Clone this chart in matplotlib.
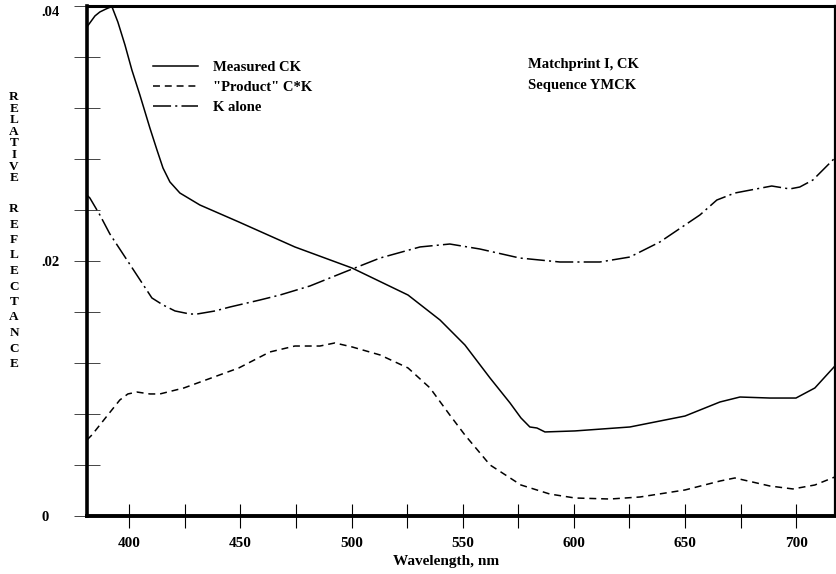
import matplotlib
matplotlib.use("Agg")
import matplotlib.pyplot as plt

plt.rcParams['font.family'] = ['Liberation Serif', 'DejaVu Serif']
plt.rcParams['font.weight'] = 'bold'
plt.rcParams['lines.scale_dashes'] = False

# %% values (wavelength in nm, relative reflectance)
measured_wl = [381.0, 384.6, 386.8, 389.5, 392.2, 394.9, 398.1, 401.2, 404.8, 409.3,
               412.5, 415.2, 418.3, 422.8, 431.8, 449.3, 474.5, 500.2, 525.4, 539.8,
               551.0, 562.3, 571.3, 576.2, 580.2, 583.4, 587.0, 600.5, 625.2, 650.0,
               665.7, 674.7, 688.2, 699.9, 708.4, 717.4]
measured_r = [0.0384, 0.03926, 0.03957, 0.0398, 0.0400, 0.03878, 0.03698, 0.03502, 0.03306, 0.03047,
              0.02874, 0.02733, 0.02624, 0.02537, 0.02443, 0.0231, 0.02114, 0.01949, 0.01737, 0.01541,
              0.01345, 0.01086, 0.0089, 0.00773, 0.00702, 0.00694, 0.00663, 0.00671, 0.00702, 0.00788,
              0.00898, 0.00937, 0.00929, 0.00929, 0.01008, 0.0118]

product_wl = [381.0, 383.2, 390.0, 395.8, 399.4, 403.5, 409.3, 413.8, 424.6, 449.3,
              463.2, 474.5, 485.8, 492.5, 500.2, 512.8, 525.4, 535.3, 544.2, 551.0,
              562.3, 576.2, 589.2, 600.5, 616.3, 629.8, 650.0, 665.7, 672.4, 688.2,
              698.5, 708.4, 717.4]
product_r = [0.0060, 0.00639, 0.00788, 0.00914, 0.00961, 0.00976, 0.00961, 0.00961, 0.01008, 0.01165,
             0.0129, 0.01337, 0.01337, 0.01361, 0.0133, 0.01267, 0.01165, 0.01008, 0.00796, 0.00639,
             0.00404, 0.00247, 0.00176, 0.00145, 0.00137, 0.00153, 0.00208, 0.00278, 0.00302, 0.00239,
             0.00216, 0.00247, 0.0031]

kalone_wl = [381.0, 382.3, 386.8, 391.3, 410.2, 415.2, 420.6, 427.3, 430.5, 438.6,
             445.3, 458.8, 467.8, 481.3, 497.0, 512.8, 530.8, 544.2, 557.7, 575.7,
             593.7, 611.7, 625.2, 638.7, 656.7, 664.3, 672.4, 689.0, 697.1, 701.6,
             707.5, 717.4]
kalone_r = [0.0252, 0.02498, 0.02365, 0.02216, 0.01714, 0.01659, 0.01612, 0.01588, 0.01588, 0.01612,
            0.01643, 0.01698, 0.01737, 0.01808, 0.01918, 0.02027, 0.02114, 0.02137, 0.02098, 0.02027,
            0.01996, 0.01996, 0.02035, 0.02153, 0.02365, 0.02482, 0.02537, 0.02592, 0.02569, 0.02584,
            0.02639, 0.02812]

xticks_major = [400, 450, 500, 550, 600, 650, 700]
xticks_minor = [425, 475, 525, 575, 625, 675]
yticks_major = [0, 0.02, 0.04]
ytick_labels = ['0', '.02', '.04']
yticks_minor = [0.004, 0.008, 0.012, 0.016, 0.024, 0.028, 0.032, 0.036]
ylabel_word1 = "RELATIVE"
ylabel_word2 = "REFLECTANCE"

# %%
fig = plt.figure(figsize=(8.37, 5.74), dpi=100)
ax = fig.add_axes([0.1039, 0.1002, 0.8933, 0.8885])

ax.plot(measured_wl, measured_r, color='black', lw=1.1, label='Measured CK')
ax.plot(product_wl, product_r, color='black', lw=1.1, dashes=(5, 3.5), label='"Product" C*K')
ax.plot(kalone_wl, kalone_r, color='black', lw=1.1, dashes=(13, 3, 1.5, 3), label='K alone')

ax.set_xlim(381.0, 717.3)
ax.set_ylim(0, 0.04)

for side, lw in (('left', 2.6), ('bottom', 2.8), ('top', 2.2), ('right', 1.6)):
    ax.spines[side].set_linewidth(lw)

ax.set_xticks(xticks_major)
ax.set_xticks(xticks_minor, minor=True)
ax.set_yticks(yticks_major)
ax.set_yticklabels(ytick_labels, ha='left')
ax.get_yticklabels()[-1].set_va('top')
ax.set_yticks(yticks_minor, minor=True)
ax.tick_params(axis='x', which='both', direction='inout', length=17, width=0.8,
               labelsize=11, pad=6)
ax.tick_params(axis='y', which='both', direction='inout', length=19, width=0.7,
               color='#444444', labelsize=10.5, pad=23.5)

ax.set_xlabel('Wavelength, nm', fontsize=11, fontweight='bold')
ax.xaxis.set_label_coords(0.48, -0.0755)

# stacked y label, one letter per line (the two words are spaced differently)
for i, ch in enumerate(ylabel_word1):
    fig.text(14 / 837, 1 - (97 + i * 11.6) / 574, ch, ha='center', va='center',
             fontsize=9.5, fontweight='bold')
for i, ch in enumerate(ylabel_word2):
    fig.text(14 / 837, 1 - (209 + i * 15.5) / 574, ch, ha='center', va='center',
             fontsize=9.5, fontweight='bold')

ax.legend(loc='upper left', bbox_to_anchor=(0.088, 0.893), frameon=False,
          borderpad=0, borderaxespad=0, handlelength=3.1, handletextpad=1.0,
          labelspacing=0.45, prop={'size': 10.5, 'weight': 'bold'})

ax.text(0.5896, 0.887, 'Matchprint I, CK', transform=ax.transAxes, ha='left', va='center',
        fontsize=10.5, fontweight='bold')
ax.text(0.5896, 0.846, 'Sequence YMCK', transform=ax.transAxes, ha='left', va='center',
        fontsize=10.5, fontweight='bold')

fig.savefig('out.png', dpi=100)
